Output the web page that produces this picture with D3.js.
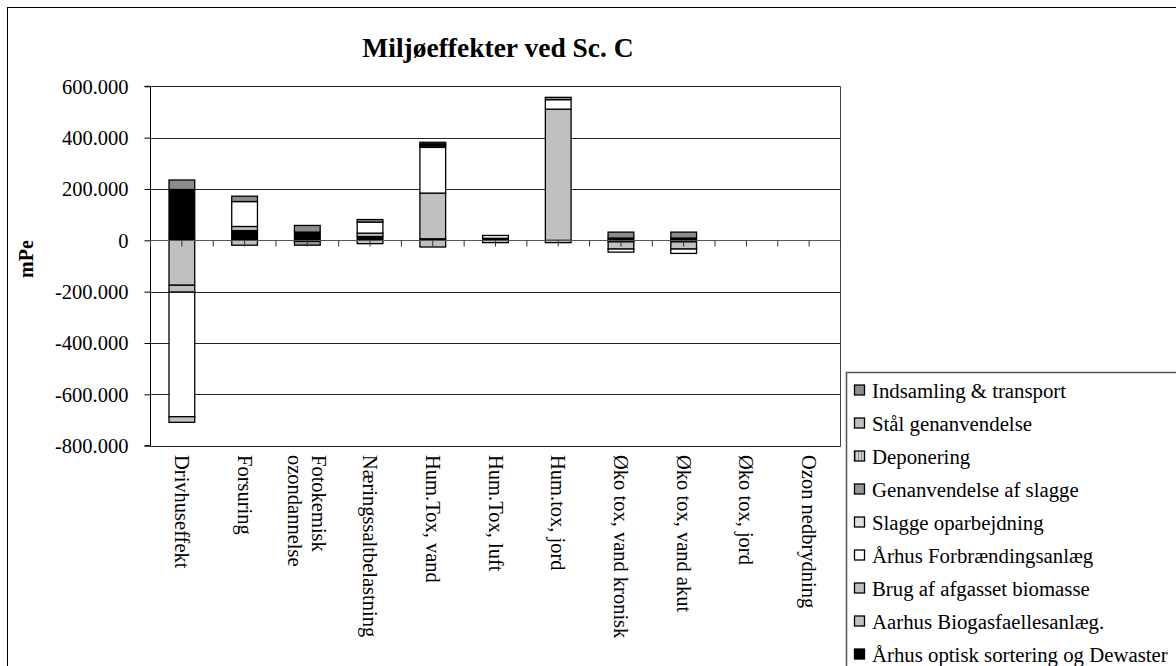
<!DOCTYPE html>
<html>
<head>
<meta charset="utf-8">
<script src="https://cdn.jsdelivr.net/npm/d3@7"></script>
<style>
  html, body { margin: 0; padding: 0; background: #fff; }
  svg { display: block; font-family: "Liberation Serif", "Times New Roman", serif; }
</style>
</head>
<body>
<svg id="chart" width="1176" height="666"></svg>
<script>
// ---- data (values in mPe) ----
const categories = ["Drivhuseffekt", "Forsuring", "Fotokemisk ozondannelse", "Næringssaltbelastning",
  "Hum.Tox, vand", "Hum.Tox, luft", "Hum.tox, jord", "Øko tox, vand kronisk", "Øko tox, vand akut",
  "Øko tox, jord", "Ozon nedbrydning"];
const categoryLines = [["Drivhuseffekt"], ["Forsuring"], ["Fotokemisk", "ozondannelse"], ["Næringssaltbelastning"],
  ["Hum.Tox, vand"], ["Hum.Tox, luft"], ["Hum.tox, jord"], ["Øko tox, vand kronisk"], ["Øko tox, vand akut"],
  ["Øko tox, jord"], ["Ozon nedbrydning"]];

const seriesNames = ["Århus optisk sortering og Dewaster", "Aarhus Biogasfaellesanlæg.", "Brug af afgasset biomasse",
  "Århus Forbrændingsanlæg", "Slagge oparbejdning", "Genanvendelse af slagge", "Deponering",
  "Stål genanvendelse", "Indsamling & transport"];

const optisk       = [198000, 38000, 32000, 15000, 6000, 8000, 0, 9000, 9000, 0, 0];
const biogas       = [-175000, 16000, 0, 13000, -26000, -9000, -9000, -6000, -6000, 0, 0];
const brug         = [-27000, -19000, 0, -13000, 178000, 0, 511000, -28000, -28000, 0, 0];
const forbraending = [-485000, 97000, -4000, 43000, 178000, 11000, 37000, -12000, -17000, 0, 0];
const slagge       = [0, 0, 0, 0, 0, 0, 0, 0, 0, 0, 0];
const genanvendelse= [0, 0, -15000, 0, 6000, 0, 0, 0, 0, 0, 0];
const deponering   = [0, 0, 0, 0, 4000, 0, 0, 0, 0, 0, 0];
const staal        = [-22000, 0, 0, 0, 4000, 0, 0, 0, 0, 0, 0];
const indsamling   = [37000, 21000, 26000, 10000, 6000, 0, 9000, 23000, 23000, 0, 0];

const seriesValues = [optisk, biogas, brug, forbraending, slagge, genanvendelse, deponering, staal, indsamling];
const seriesFills = ["#000000", "#c0c0c0", "#c0c0c0", "#ffffff", "#e0e0e0", "#969696", "url(#depPattern)", "#c0c0c0", "#8c8c8c"];

const yTicks = [600000, 400000, 200000, 0, -200000, -400000, -600000, -800000];

// ---- layout ----
const svg = d3.select("#chart");
const X0 = 150.5, X1 = 840.5, Y0 = 86.3, Y1 = 445.7;

const defs = svg.append("defs");
const pat = defs.append("pattern").attr("id", "depPattern").attr("width", 3).attr("height", 3)
  .attr("patternUnits", "userSpaceOnUse");
pat.append("rect").attr("width", 3).attr("height", 3).attr("fill", "#d0d0d0");
pat.append("rect").attr("width", 1).attr("height", 3).attr("fill", "#909090");

// outer frame
svg.append("rect").attr("x", 7.5).attr("y", 7.5).attr("width", 1200).attr("height", 700)
  .attr("fill", "none").attr("stroke", "#000").attr("stroke-width", 1);

const x = d3.scaleBand().domain(categories).range([X0, X1]).paddingInner(0.59).paddingOuter(0.295);
const y = d3.scaleLinear().domain([-800000, 600000]).range([Y1, Y0]);

const locale = d3.formatLocale({decimal: ",", thousands: ".", grouping: [3], currency: ["", ""], minus: "-"});
const fmt = locale.format(",.0f");

// gridlines
svg.append("g").selectAll("line").data(yTicks).join("line")
  .attr("x1", X0).attr("x2", X1)
  .attr("y1", d => Math.round(y(d)) + 0.5).attr("y2", d => Math.round(y(d)) + 0.5)
  .attr("stroke", d => d === 0 ? "none" : "#222").attr("stroke-width", 1);

// right border of plot
svg.append("line").attr("x1", X1).attr("x2", X1).attr("y1", Math.round(y(600000)) + 0.5).attr("y2", Math.round(y(-800000)) + 0.5)
  .attr("stroke", "#444").attr("stroke-width", 1);

// stacked data
const table = categories.map((c, i) => {
  const o = {cat: c};
  seriesNames.forEach((s, j) => o[s] = seriesValues[j][i]);
  return o;
});
const stack = d3.stack().keys(seriesNames).offset(d3.stackOffsetDiverging);
const stacked = stack(table);

svg.append("g").selectAll("g").data(stacked).join("g")
  .attr("fill", (d, i) => seriesFills[i])
  .selectAll("rect").data(d => d.filter(p => p[1] - p[0] !== 0)).join("rect")
  .attr("x", d => x(d.data.cat))
  .attr("width", x.bandwidth())
  .attr("y", d => y(Math.max(d[0], d[1])))
  .attr("height", d => Math.abs(y(d[0]) - y(d[1])))
  .attr("stroke", "#000").attr("stroke-width", 1.3);

// y axis
const yAxis = d3.axisLeft(y).tickValues(yTicks).tickFormat(fmt).tickSize(6).tickPadding(16);
const ya = svg.append("g").attr("transform", `translate(${X0},0)`).call(yAxis);
ya.select(".domain").attr("stroke", "#000").attr("d", `M-6,${y(600000)}H0V${y(-800000)}H-6`);
ya.selectAll(".tick line").attr("stroke", "#000");
ya.selectAll(".tick text").attr("font-family", "Liberation Serif").attr("font-size", 20.5).attr("fill", "#000")
  .attr("dy", "0.33em");

// category axis at zero
const zeroY = Math.round(y(0)) + 0.5;
svg.append("line").attr("x1", X0).attr("x2", X1).attr("y1", zeroY).attr("y2", zeroY)
  .attr("stroke", "#555").attr("stroke-width", 1.2);
const step = x.step();
const tickXs = d3.range(0, categories.length * 2 + 1).map(k => X0 + k * step / 2);
svg.append("g").selectAll("line").data(tickXs).join("line")
  .attr("x1", d => d).attr("x2", d => d).attr("y1", zeroY).attr("y2", zeroY + 6)
  .attr("stroke", "#333").attr("stroke-width", 1);

// category labels (rotated, reading downward)
const lab = svg.append("g").selectAll("text").data(categories).join("text")
  .attr("transform", d => `translate(${x(d) + x.bandwidth() / 2},455) rotate(90)`)
  .attr("font-size", 20.5).attr("fill", "#000").attr("text-anchor", "start");
lab.each(function (d, i) {
  const lines = categoryLines[i];
  const n = lines.length;
  d3.select(this).selectAll("tspan").data(lines).join("tspan")
    .attr("x", 0)
    .attr("y", (l, k) => (k - (n - 1) / 2) * 24)
    .attr("dominant-baseline", "central")
    .text(l => l);
});

// y label
svg.append("text").attr("transform", "translate(26,259) rotate(-90)")
  .attr("text-anchor", "middle").attr("dominant-baseline", "central")
  .attr("font-size", 20).attr("font-weight", "bold").text("mPe");

// title
svg.append("text").attr("x", 498).attr("y", 57).attr("text-anchor", "middle")
  .attr("font-size", 27.5).attr("font-weight", "bold").text("Miljøeffekter ved Sc. C");

// legend
const lg = svg.append("g");
lg.append("rect").attr("x", 846.5).attr("y", 372.5).attr("width", 400).attr("height", 400)
  .attr("fill", "#fff").attr("stroke", "#555").attr("stroke-width", 1.5);
const legendOrder = d3.range(seriesNames.length).reverse();
const li = lg.selectAll("g.item").data(legendOrder).join("g").attr("class", "item")
  .attr("transform", (d, k) => `translate(0,${390.5 + k * 33})`);
li.append("rect").attr("x", 854.5).attr("y", -5.5).attr("width", 10).attr("height", 10)
  .attr("fill", d => seriesFills[d]).attr("stroke", "#000").attr("stroke-width", 1.3);
li.append("text").attr("x", 872).attr("y", 0).attr("dominant-baseline", "central")
  .attr("font-size", 20.8).attr("fill", "#000").text(d => seriesNames[d]);
</script>
</body>
</html>
